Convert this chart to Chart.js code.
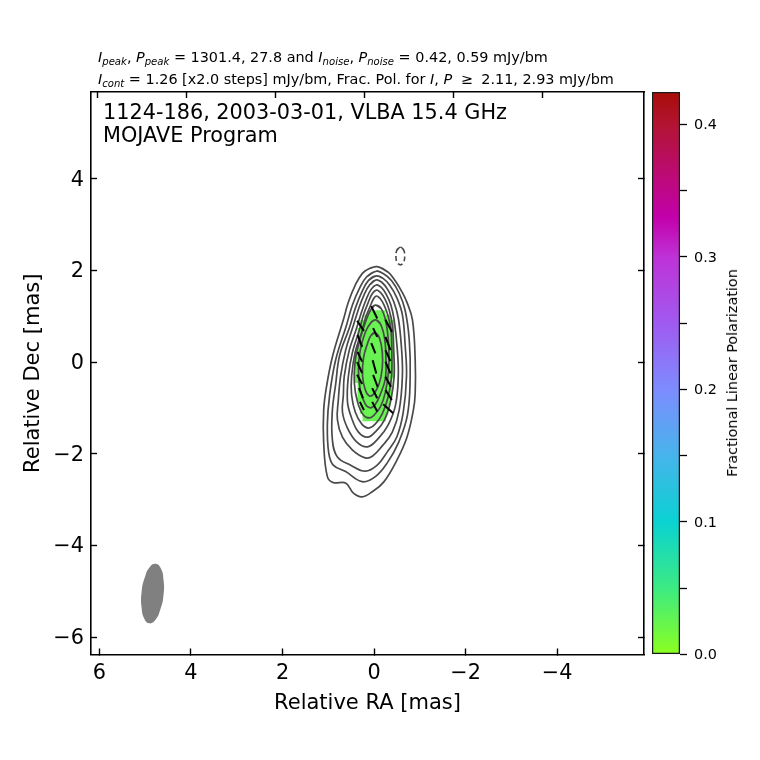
<!DOCTYPE html>
<html>
<head>
<meta charset="utf-8">
<script src="https://cdn.jsdelivr.net/npm/chart.js@4/dist/chart.umd.min.js"></script>
<style>
  html, body { margin: 0; padding: 0; background: #fff; }
  #page { position: relative; width: 760px; height: 760px; overflow: hidden; font-family: "DejaVu Sans", sans-serif; color: #000; }
  canvas { position: absolute; top: 0; }
  .note { position: absolute; white-space: nowrap; }
  .head { left: 98px; font-size: 14.4px; line-height: 16px; }
  .head sub { font-size: 70%; line-height: 0; vertical-align: -3px; }
  .ge { margin: 0 4px; }
  .inner { left: 103px; font-size: 20.8px; line-height: 23.5px; }
  #cbLabel { left: 732px; top: 373px; font-size: 14.4px; transform: translate(-50%, -50%) rotate(-90deg); }
</style>
</head>
<body>
<div id="page">
  <canvas id="mapChart" width="760" height="760" style="left:0"></canvas>
  <canvas id="barChart" width="120" height="760" style="left:640px"></canvas>
  <div class="note head" style="top:49px"><i>I<sub>peak</sub></i>, <i>P<sub>peak</sub></i> = 1301.4, 27.8 and <i>I<sub>noise</sub></i>, <i>P<sub>noise</sub></i> = 0.42, 0.59 mJy/bm</div>
  <div class="note head" style="top:71px"><i>I<sub>cont</sub></i> = 1.26 [x2.0 steps] mJy/bm, Frac. Pol. for <i>I</i>, <i>P</i> <span class="ge">&ge;</span> 2.11, 2.93 mJy/bm</div>
  <div class="note inner" style="top:100.5px">1124-186, 2003-03-01, VLBA 15.4 GHz<br>MOJAVE Program</div>
  <div class="note" id="cbLabel">Fractional Linear Polarization</div>
</div>
<script>
// axis ticks
const raTicks = [6, 4, 2, 0, -2, -4];
const decTicks = [4, 2, 0, -2, -4, -6];
const topTicks = [6, 4, 2, 0, -2, -4];
const barTicks = [0, 0.05, 0.1, 0.15, 0.2, 0.25, 0.3, 0.35, 0.4];

// colour bar
const barStops = [0, 0.05, 0.1, 0.15, 0.2, 0.25, 0.3, 0.33, 0.36, 0.4, 0.4245];
const barColors = ['#8cff1e', '#3ceb82', '#0ad2d2', '#46b4eb', '#7d8cff', '#a05af0', '#be32d7', '#c300aa', '#bc0a78', '#b21432', '#a80c08'];

// total intensity contours, outer to inner: [RA, Dec] in mas
const contour1 = [[-.07,2.08],[-.31,1.96],[-.47,1.76],[-.61,1.53],[-.72,1.3],[-.84,.92],[-.9,.04],[-.9,-.68],[-.86,-1.05],[-.72,-1.64],[-.5,-2.14],[-.21,-2.62],[.04,-2.83],[.26,-2.94],[.45,-2.86],[.62,-2.64],[.89,-2.63],[1.02,-2.5],[1.1,-1.77],[1.1,-1.05],[1.04,-.55],[.91,.11],[.67,.92],[.56,1.31],[.41,1.68],[.25,1.94],[.1,2.04]];
const contour2 = [[-.05,1.98],[-.2,1.93],[-.38,1.78],[-.55,1.5],[-.68,1.13],[-.77,.48],[-.79,-.31],[-.73,-1.16],[-.53,-1.77],[-.29,-2.2],[-.03,-2.5],[.26,-2.61],[.62,-2.39],[.89,-2.25],[.99,-1.98],[1.02,-1.37],[.97,-.72],[.84,.04],[.6,.81],[.47,1.25],[.32,1.6],[.16,1.86]];
const contour3 = [[-.05,1.88],[-.19,1.83],[-.34,1.68],[-.5,1.4],[-.62,1.03],[-.68,.37],[-.71,-.31],[-.64,-1.09],[-.5,-1.63],[-.29,-1.96],[-.07,-2.25],[.19,-2.38],[.51,-2.25],[.8,-2.07],[.91,-1.7],[.91,-1.05],[.84,-.5],[.75,.15],[.54,.74],[.41,1.17],[.27,1.52],[.12,1.78]];
const contour4 = [[-.05,1.79],[-.17,1.74],[-.3,1.58],[-.43,1.32],[-.53,.96],[-.6,.31],[-.62,-.31],[-.55,-1.05],[-.4,-1.53],[-.18,-1.83],[.03,-2.05],[.19,-2.09],[.47,-1.92],[.69,-1.64],[.8,-1.26],[.78,-.83],[.73,-.31],[.62,.26],[.47,.74],[.35,1.12],[.22,1.46],[.09,1.69]];
const contour5 = [[-.05,1.68],[-.16,1.63],[-.27,1.47],[-.37,1.24],[-.44,.92],[-.51,.26],[-.53,-.31],[-.47,-.94],[-.31,-1.37],[-.1,-1.66],[.14,-1.85],[.38,-1.74],[.58,-1.44],[.69,-1.09],[.67,-.72],[.65,-.31],[.54,.26],[.38,.74],[.28,1.07],[.17,1.37],[.06,1.59]];
const contour6 = [[-.05,1.57],[-.14,1.52],[-.24,1.37],[-.33,1.14],[-.4,.81],[-.43,.26],[-.44,-.31],[-.36,-.87],[-.23,-1.26],[-.05,-1.5],[.14,-1.64],[.34,-1.53],[.49,-1.22],[.58,-.87],[.56,-.31],[.47,.22],[.32,.7],[.23,1.03],[.13,1.29],[.04,1.49]];
const contour7 = [[-.05,1.44],[-.13,1.39],[-.22,1.24],[-.31,1],[-.37,.7],[-.39,.15],[-.38,-.35],[-.3,-.79],[-.18,-1.13],[-.03,-1.35],[.12,-1.44],[.27,-1.35],[.41,-1.09],[.49,-.72],[.49,-.31],[.41,.22],[.27,.65],[.18,.98],[.09,1.2],[.01,1.38]];
const contour8 = [[-.03,1.24],[-.16,1.16],[-.26,.87],[-.32,.37],[-.32,-.17],[-.25,-.65],[-.14,-.98],[0,-1.16],[.1,-1.22],[.23,-1.16],[.36,-.87],[.43,-.46],[.41,.04],[.3,.52],[.17,.92],[.06,1.16]];
const contour9 = [[-.03,.92],[-.14,.83],[-.23,.52],[-.26,.09],[-.25,-.35],[-.14,-.7],[-.03,-.92],[.08,-1],[.19,-.92],[.3,-.61],[.34,-.17],[.3,.26],[.19,.65],[.06,.87]];
const contour10 = [[-.03,.63],[-.12,.52],[-.18,.22],[-.18,-.13],[-.11,-.48],[.01,-.7],[.1,-.74],[.19,-.61],[.25,-.31],[.23,.09],[.14,.41],[.06,.59]];
const negContour = [[-.58,2.51],[-.65,2.44],[-.67,2.31],[-.65,2.18],[-.58,2.12],[-.5,2.18],[-.48,2.31],[-.5,2.44]];

// polarization area and EVPA sticks: [RA1, Dec1, RA2, Dec2]
const polArea = [[.12,1.13],[-.25,1.13],[-.25,1.03],[-.36,1.03],[-.36,.92],[-.44,.92],[-.44,-.35],[-.4,-.35],[-.4,-.79],[-.36,-.79],[-.36,-.96],[-.31,-.96],[-.31,-1.16],[-.25,-1.16],[-.25,-1.29],[.25,-1.29],[.25,-1.13],[.31,-1.13],[.31,-.87],[.36,-.87],[.36,-.46],[.43,-.46],[.43,.22],[.36,.22],[.36,.74],[.3,.74],[.3,.92],[.21,.92],[.21,1.03],[.12,1.03]];
const sticks = [
  [.37,.9,.22,.68],[.36,.59,.26,.33],[.36,.22,.26,.01],[.37,0,.26,-.24],[.37,-.28,.26,-.48],[.33,-.57,.24,-.79],[.31,-.87,.22,-1.05],
  [.06,1.22,-.07,.95],[.02,.74,-.07,.55],[.06,.41,-.03,.19],[.03,.04,-.05,-.25],[.02,-.28,-.08,-.54],[.04,-.57,-.07,-.79],[.04,-.87,-.07,-1.08],
  [-.25,.92,-.39,.66],[-.25,.55,-.36,.26],[-.25,.26,-.36,.02],[-.25,.01,-.36,-.25],[-.25,-.32,-.37,-.54],[-.25,-.61,-.39,-.83],[-.2,-.92,-.42,-1.12]
];

// restoring beam outline
const beam = [[4.77,-4.4],[4.66,-4.5],[4.6,-4.75],[4.6,-5.08],[4.67,-5.4],[4.78,-5.63],[4.91,-5.7],[5.02,-5.6],[5.08,-5.35],[5.08,-5.02],[5.01,-4.7],[4.9,-4.47]];

const contours = [contour1, contour2, contour3, contour4, contour5, contour6, contour7, contour8, contour9, contour10];

Chart.defaults.font.family = '"DejaVu Sans", sans-serif';
Chart.defaults.color = '#000';
Chart.defaults.animation = false;

function toPoint(p) {
  return { x: p[0], y: p[1] };
}

// smooth closed curve: overlap the ends so the spline has no kink at the join
function ring(list) {
  const pts = list.map(toPoint);
  return [pts[pts.length - 1], ...pts, pts[0], pts[1]];
}

const tickFmt = v => String(v).replace('-', '\u2212');

function axis(pos, min, max, ticks, size, showLabels, extra) {
  const vertical = pos === 'left' || pos === 'right';
  return Object.assign({
    type: 'linear',
    position: pos,
    min: min,
    max: max,
    border: { display: true, color: '#000', width: 1.6 },
    grid: { drawOnChartArea: false, drawTicks: true, tickLength: -6, tickColor: '#000', tickWidth: 1.4 },
    ticks: { display: showLabels, padding: 13, labelOffset: vertical ? 1.5 : 0, autoSkip: false, maxRotation: 0, font: { size: 20.8 }, callback: tickFmt },
    afterBuildTicks: a => { a.ticks = ticks.map(v => ({ value: v })); },
    afterFit: a => {
      if (vertical) a.width = size; else a.height = size;
    }
  }, extra || {});
}

const mapSets = [];
// drawn last to first, so sticks go in front
sticks.forEach(s => {
  mapSets.push({ data: [{ x: s[0], y: s[1] }, { x: s[2], y: s[3] }], showLine: true, borderColor: '#000', borderWidth: 2, pointRadius: 0 });
});
contours.forEach(c => {
  mapSets.push({ data: ring(c), showLine: true, borderColor: '#4a4a4a', borderWidth: 1.7, pointRadius: 0, tension: 0.4 });
});
mapSets.push({ data: ring(negContour), showLine: true, borderColor: '#4a4a4a', borderWidth: 1.6, borderDash: [5, 3], pointRadius: 0, tension: 0.4 });
mapSets.push({ data: polArea.concat([polArea[0]]).map(toPoint), showLine: true, borderWidth: 0, pointRadius: 0, backgroundColor: '#69f352', fill: 'shape' });
mapSets.push({ data: ring(beam), showLine: true, borderWidth: 0, pointRadius: 0, tension: 0.5, backgroundColor: '#808080', fill: 'shape' });

new Chart(document.getElementById('mapChart'), {
  type: 'scatter',
  data: { datasets: mapSets },
  options: {
    responsive: false,
    layout: { padding: { left: 21, right: 116, top: 92, bottom: 43.5 } },
    plugins: { legend: { display: false }, tooltip: { enabled: false } },
    scales: {
      x: axis('bottom', -5.9, 6.185, raTicks, 62, true, { reverse: true, title: { display: true, text: 'Relative RA [mas]', font: { size: 21 }, padding: 0 } }),
      y: axis('left', -6.38, 5.89, decTicks, 70, true, { title: { display: true, text: 'Relative Dec [mas]', font: { size: 21 }, padding: 0 } }),
      x2: axis('top', -6.29, 6.15, topTicks, 0, false, { axis: 'x', reverse: true }),
      y2: axis('right', -6.38, 5.89, decTicks, 0, false, { axis: 'y' })
    }
  }
});

// colour bar gradient follows the bar scale
function barFill(ctx) {
  const chart = ctx.chart;
  if (!chart.chartArea) return barColors[0];
  const yScale = chart.scales.y;
  const top = barStops[barStops.length - 1];
  const g = chart.ctx.createLinearGradient(0, yScale.getPixelForValue(0), 0, yScale.getPixelForValue(top));
  barStops.forEach((s, i) => g.addColorStop(s / top, barColors[i]));
  return g;
}

new Chart(document.getElementById('barChart'), {
  type: 'bar',
  data: {
    labels: [''],
    datasets: [{ data: [[0, barStops[barStops.length - 1]]], backgroundColor: barFill, borderColor: '#1a1a1a', borderWidth: 1.6, borderSkipped: false, categoryPercentage: 1, barPercentage: 1 }]
  },
  options: {
    responsive: false,
    layout: { padding: { left: 12, right: 0, top: 92, bottom: 105.5 } },
    plugins: { legend: { display: false }, tooltip: { enabled: false } },
    scales: {
      x: { display: false },
      y: {
        position: 'right',
        min: 0,
        max: barStops[barStops.length - 1],
        border: { display: false },
        grid: { drawOnChartArea: false, drawTicks: true, tickLength: 7, tickColor: '#000', tickWidth: 1.3 },
        ticks: {
          padding: 7, labelOffset: 1, autoSkip: false, font: { size: 14.4 },
          callback: v => (Math.round(v * 100) % 10 === 0 ? v.toFixed(1) : '')
        },
        afterBuildTicks: a => { a.ticks = barTicks.map(v => ({ value: v })); },
        afterFit: a => { a.width = 80; }
      }
    }
  }
});
</script>
</body>
</html>
